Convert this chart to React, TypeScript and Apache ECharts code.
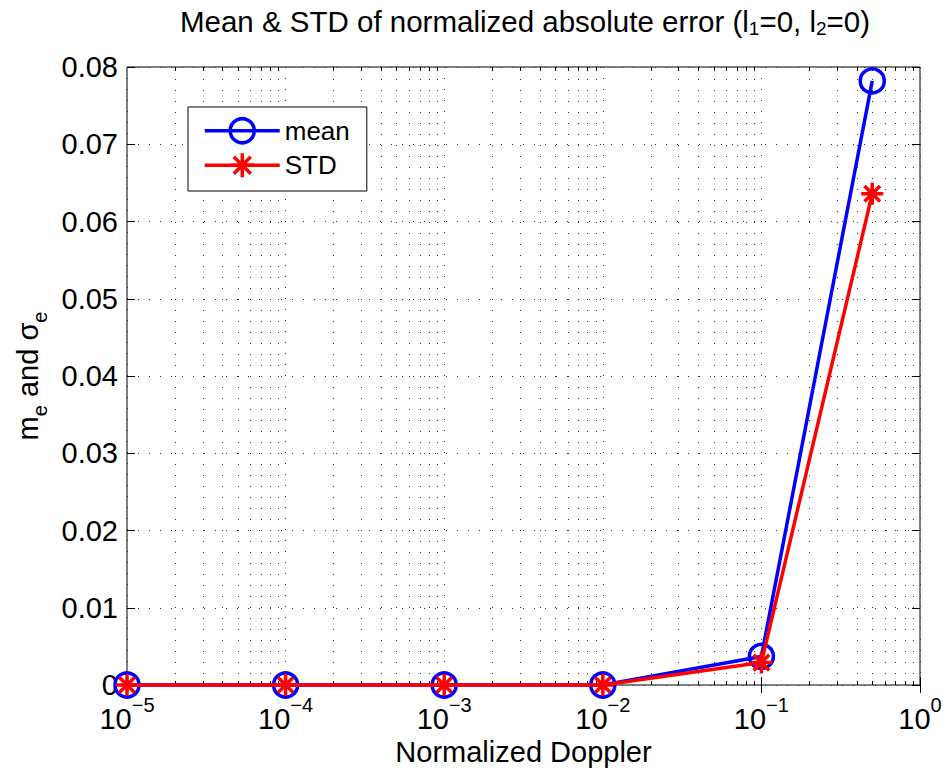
import React, { useEffect, useRef } from 'react';
import * as echarts from 'echarts';

const xValues = [1e-5, 1e-4, 1e-3, 1e-2, 1e-1, 0.5];
const meanValues = [0, 0, 0, 0, 0.0037, 0.0782];
const stdValues = [0, 0, 0, 0, 0.0029, 0.0636];
const seriesNames = ['mean', 'STD'];
const xMin = 1e-5;
const xMax = 1;
const yMin = 0;
const yMax = 0.08;
const yInterval = 0.01;
const minorFactors = [2, 3, 4, 5, 6, 7, 8, 9];
const decades = [-5, -4, -3, -2, -1];
const minorXs: number[] = [];
decades.forEach((d) => minorFactors.forEach((k) => minorXs.push(k * Math.pow(10, d))));

const titleText = '{t|Mean & STD of normalized absolute error (l}{s|1}{t|=0, l}{s|2}{t|=0)}';
const xName = 'Normalized Doppler';
const yNameText = '{m|m}{s|e}{m| and σ}{s|e}';

const FONT = '"Liberation Sans", Arial, Helvetica, sans-serif';
const STAR = 'path://M12,0 L12,24 M0,12 L24,12 M3.5,3.5 L20.5,20.5 M20.5,3.5 L3.5,20.5';
const DOT = [1, 10];
const LW = 3.5;

export default function App() {
  const ref = useRef<HTMLDivElement>(null);
  useEffect(() => {
    if (!ref.current) return;
    const chart = echarts.init(ref.current, undefined, { renderer: 'svg' });
    const supMinus = (e: number) => (e < 0 ? '\u2212' + -e : String(e));
    chart.setOption({
      animation: false,
      backgroundColor: '#fff',
      textStyle: { fontFamily: FONT },
      grid: {
        left: 127,
        right: 27,
        top: 67,
        bottom: 87,
        show: true,
        borderColor: '#000',
        borderWidth: 1,
        backgroundColor: 'transparent',
      },
      graphic: [
        {
          type: 'text',
          x: 525,
          y: 21,
          style: {
            text: titleText,
            align: 'center',
            verticalAlign: 'middle',
            rich: {
              t: { fontSize: 29.5, lineHeight: 34, fontFamily: FONT, fill: '#000' },
              s: { fontSize: 19, lineHeight: 19, verticalAlign: 'bottom', fontFamily: FONT, fill: '#000' },
            },
          },
        },
        {
          type: 'text',
          x: 28,
          y: 376,
          rotation: Math.PI / 2,
          style: {
            text: yNameText,
            align: 'center',
            verticalAlign: 'middle',
            rich: {
              m: { fontSize: 29, lineHeight: 44, fontFamily: FONT, fill: '#000' },
              s: { fontSize: 20, lineHeight: 20, verticalAlign: 'bottom', fontFamily: FONT, fill: '#000' },
            },
          },
        },
      ],
      legend: {
        data: seriesNames,
        orient: 'vertical',
        left: 188,
        top: 107,
        itemWidth: 75,
        itemHeight: 30,
        itemGap: 7,
        padding: [10, 17, 12, 15],
        borderColor: '#000',
        borderWidth: 1,
        backgroundColor: '#fff',
        itemStyle: { borderWidth: LW },
        lineStyle: { width: LW },
        textStyle: { fontSize: 26, color: '#000', fontFamily: FONT },
      },
      xAxis: [
        {
          type: 'log',
          logBase: 10,
          min: xMin,
          max: xMax,
          position: 'bottom',
          axisLine: { show: false },
          axisTick: { show: true, inside: true, length: 8, lineStyle: { color: '#000', width: 1 } },
          axisLabel: {
            margin: 10,
            color: '#000',
            formatter: (v: number) => '{b|10}{s|' + supMinus(Math.round(Math.log10(v))) + '}',
            rich: {
              b: { fontSize: 29, lineHeight: 47, fontFamily: FONT, color: '#000' },
              s: { fontSize: 20, lineHeight: 20, verticalAlign: 'top', fontFamily: FONT, color: '#000' },
            },
          },
          splitLine: { show: true, lineStyle: { color: '#333', width: 1, type: DOT } },
          name: xName,
          nameLocation: 'middle',
          nameGap: 50,
          nameTextStyle: { fontSize: 29, lineHeight: 29, color: '#000', fontFamily: FONT },
        },
        {
          type: 'log',
          logBase: 10,
          min: xMin,
          max: xMax,
          position: 'top',
          axisLine: { show: false },
          axisTick: { show: true, inside: true, length: 8, lineStyle: { color: '#000', width: 1 } },
          axisLabel: { show: false },
          splitLine: { show: false },
        },
      ],
      yAxis: [
        {
          type: 'value',
          min: yMin,
          max: yMax,
          interval: yInterval,
          position: 'left',
          axisLine: { show: false },
          axisTick: { show: true, inside: true, length: 8, lineStyle: { color: '#000', width: 1 } },
          axisLabel: {
            margin: 9,
            fontSize: 29,
            color: '#000',
            fontFamily: FONT,
            formatter: (v: number) => (v === 0 ? '0' : v.toFixed(2)),
          },
          splitLine: { show: true, lineStyle: { color: '#333', width: 1, type: DOT } },
        },
        {
          type: 'value',
          min: yMin,
          max: yMax,
          interval: yInterval,
          position: 'right',
          axisLine: { show: false },
          axisTick: { show: true, inside: true, length: 8, lineStyle: { color: '#000', width: 1 } },
          axisLabel: { show: false },
          splitLine: { show: false },
        },
      ],
      series: [
        {
          type: 'custom',
          name: 'minor',
          silent: true,
          xAxisIndex: 0,
          yAxisIndex: 0,
          z: 1,
          data: minorXs.map((v) => [v, yMin]),
          renderItem: (params: any, api: any) => {
            const v = api.value(0);
            const p0 = api.coord([v, yMin]);
            const p1 = api.coord([v, yMax]);
            const x = Math.round(p0[0]) + 0.5;
            return {
              type: 'group',
              children: [
                {
                  type: 'line',
                  shape: { x1: x, y1: p0[1], x2: x, y2: p1[1] },
                  style: { stroke: '#333', lineWidth: 1, lineDash: DOT },
                },
                {
                  type: 'line',
                  shape: { x1: x, y1: p0[1], x2: x, y2: p0[1] - 4 },
                  style: { stroke: '#000', lineWidth: 1 },
                },
                {
                  type: 'line',
                  shape: { x1: x, y1: p1[1], x2: x, y2: p1[1] + 4 },
                  style: { stroke: '#000', lineWidth: 1 },
                },
              ],
            };
          },
        },
        {
          type: 'line',
          name: seriesNames[0],
          xAxisIndex: 0,
          yAxisIndex: 0,
          z: 3,
          clip: false,
          data: xValues.map((x, i) => [x, meanValues[i]]),
          symbol: 'circle',
          symbolSize: 24,
          lineStyle: { color: '#0000ff', width: LW },
          itemStyle: { color: 'rgba(0,0,0,0)', borderColor: '#0000ff', borderWidth: LW },
        },
        {
          type: 'line',
          name: seriesNames[1],
          xAxisIndex: 0,
          yAxisIndex: 0,
          z: 4,
          clip: false,
          data: xValues.map((x, i) => [x, stdValues[i]]),
          symbol: STAR,
          symbolSize: 22,
          lineStyle: { color: '#ff0000', width: LW },
          itemStyle: { color: '#ff0000', borderColor: '#ff0000', borderWidth: LW },
        },
      ],
    });
    return () => chart.dispose();
  }, []);
  return (
    <div
      ref={ref}
      style={{ position: 'fixed', left: 0, top: 0, width: 947, height: 772, background: '#fff' }}
    />
  );
}
